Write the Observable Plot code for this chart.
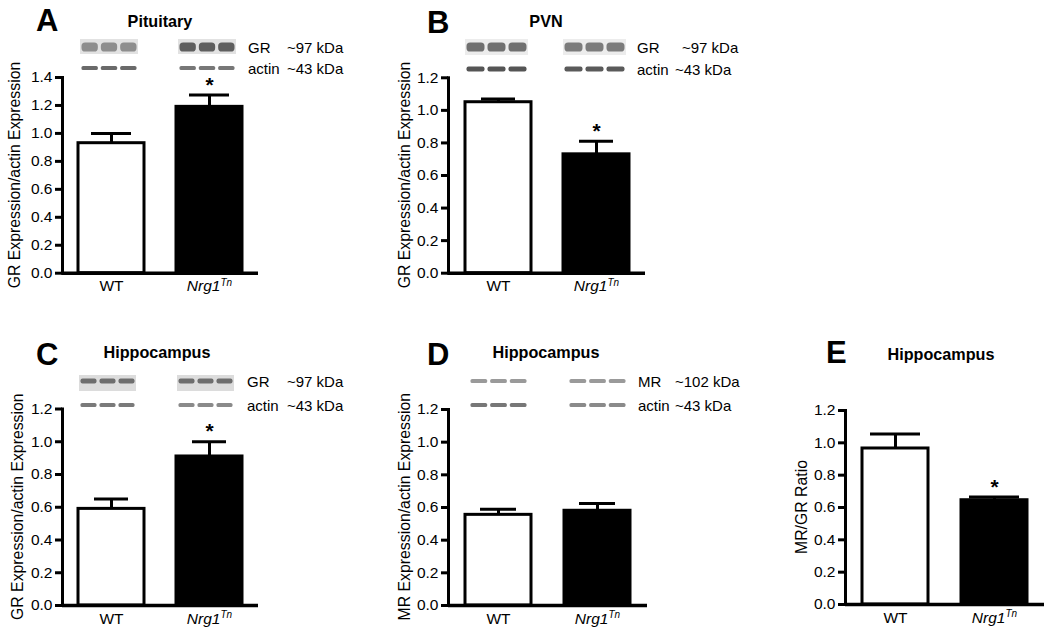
<!DOCTYPE html>
<html><head><meta charset="utf-8">
<script src="https://cdn.jsdelivr.net/npm/d3@7"></script>
<script src="https://cdn.jsdelivr.net/npm/@observablehq/plot@0.6"></script>
<style>
body{margin:0;background:#fff;}
#fig{position:relative;width:1050px;height:633px;font-family:"Liberation Sans",Arial,sans-serif;}
#fig svg{position:absolute;left:0;top:0;overflow:visible;}
</style></head><body><div id="fig"></div>
<script>
// ---- data ----
const groups = ["WT", "Nrg1"];
const meanA = [0.93, 1.19], semA = [0.07, 0.085];
const meanB = [1.05, 0.73], semB = [0.02, 0.08];
const meanC = [0.59, 0.91], semC = [0.06, 0.09];
const meanD = [0.555, 0.58], semD = [0.035, 0.045];
const meanE = [0.965, 0.645], semE = [0.09, 0.02];
const sigA = [false, true], sigB = [false, true], sigC = [false, true], sigD = [false, false], sigE = [false, true];
const ticks14 = [0, 0.2, 0.4, 0.6, 0.8, 1.0, 1.2, 1.4];
const ticks12 = [0, 0.2, 0.4, 0.6, 0.8, 1.0, 1.2];
const letters = ["A", "B", "C", "D", "E"];
const titles = ["Pituitary", "PVN", "Hippocampus", "Hippocampus", "Hippocampus"];
const yLabels = ["GR Expression/actin Expression", "GR Expression/actin Expression",
  "GR Expression/actin Expression", "MR Expression/actin Expression", "MR/GR Ratio"];
const blotNames = [["GR", "actin"], ["GR", "actin"], ["GR", "actin"], ["MR", "actin"], []];
const blotKda = [["~97 kDa", "~43 kDa"], ["~97 kDa", "~43 kDa"], ["~97 kDa", "~43 kDa"], ["~102 kDa", "~43 kDa"], []];

// ---- layout (page pixels) ----
const W = 1050, H = 633;
const FONT = "Liberation Sans, Arial, sans-serif";
const layout = [
  {left: 62, right: 258, top: 77, bottom: 272.7, max: 1.4, ticks: ticks14, cap: 13,
   letter: [36, 31], title: [160, 27], ylab: [20, 175],
   rows: [{y: 47, h: 9, bg: [39, 54, "#e2e2e2"], shade: ["#8e8e8e", "#5e5e5e"], nameX: 248, kdaX: 287},
          {y: 68, h: 4, bg: null, shade: ["#6a6a6a", "#777"], nameX: 248, kdaX: 287}],
   blot: [2, 6]},
  {left: 448, right: 645, top: 77.3, bottom: 272.7, max: 1.2, ticks: ticks12, cap: 16,
   letter: [427, 33], title: [546, 27], ylab: [410, 175],
   rows: [{y: 47, h: 9, bg: [39, 55, "#ececec"], shade: ["#707070", "#7c7c7c"], nameX: 637, kdaX: 682},
          {y: 69, h: 5, bg: null, shade: ["#555", "#5a5a5a"], nameX: 637, kdaX: 675}],
   blot: [0, 3]},
  {left: 62, right: 258, top: 408.5, bottom: 605, max: 1.2, ticks: ticks12, cap: 16,
   letter: [36, 365], title: [157, 358], ylab: [23, 506.7],
   rows: [{y: 381, h: 5, bg: [375, 391, "#dcdcdc"], shade: ["#6e6e6e", "#6e6e6e"], nameX: 247, kdaX: 287},
          {y: 405, h: 4, bg: null, shade: ["#7a7a7a", "#8a8a8a"], nameX: 247, kdaX: 287}],
   blot: [1, 8]},
  {left: 448, right: 647, top: 409, bottom: 605, max: 1.2, ticks: ticks12, cap: 15,
   letter: [427, 365], title: [546, 358], ylab: [410, 506.7],
   rows: [{y: 381, h: 4, bg: null, shade: ["#9a9a9a", "#9a9a9a"], nameX: 638, kdaX: 675},
          {y: 405, h: 4, bg: null, shade: ["#777", "#8a8a8a"], nameX: 638, kdaX: 675}],
   blot: [4, 3]},
  {left: 845, right: 1044, top: 410, bottom: 604, max: 1.2, ticks: ticks12, cap: 8,
   letter: [826, 363], title: [941, 360], ylab: [807, 507],
   rows: [], blot: [0, 0]}
];

const fig = document.getElementById("fig");
const panelsData = [[meanA, semA, sigA], [meanB, semB, sigB], [meanC, semC, sigC], [meanD, semD, sigD], [meanE, semE, sigE]];

panelsData.forEach(([means, sems, sig], p) => {
  const L = layout[p];
  const data = groups.map((g, i) => ({group: g, mean: means[i], top: means[i] + sems[i], sig: sig[i]}));
  const plot = Plot.plot({
    width: W, height: H,
    marginLeft: L.left, marginRight: W - L.right, marginTop: L.top, marginBottom: H - L.bottom,
    style: {fontFamily: FONT, fontSize: "15px", background: "transparent", color: "black", overflow: "visible"},
    x: {domain: groups, paddingInner: 0.33, paddingOuter: 0.165, label: null},
    y: {domain: [0, L.max], label: null},
    marks: [
      Plot.ruleX(data, {x: "group", y1: "mean", y2: "top", stroke: "black", strokeWidth: 3}),
      Plot.tickY(data, {x: "group", y: "top", stroke: "black", strokeWidth: 3, insetLeft: L.cap, insetRight: L.cap}),
      Plot.barY(data.filter(d => d.group === "WT"), {x: "group", y: "mean", fill: "white", stroke: "black", strokeWidth: 3}),
      Plot.barY(data.filter(d => d.group !== "WT"), {x: "group", y: "mean", fill: "black", stroke: "black", strokeWidth: 3}),
      Plot.text(data.filter(d => d.sig), {x: "group", y: "top", text: () => "*", dy: -10, fontSize: 21, fontWeight: "bold", fill: "black"}),
      Plot.frame({anchor: "left", stroke: "black", strokeWidth: 3}),
      Plot.ruleY([0], {stroke: "black", strokeWidth: 3.5}),
      Plot.axisY({ticks: L.ticks, tickSize: 7, tickPadding: 3, strokeWidth: 3, tickFormat: d3.format(".1f"), fontSize: 15.5, label: null}),
      Plot.axisX({tickSize: 0, tickPadding: 7, fontSize: 15.5, label: null})
    ]
  });
  const svg = d3.select(plot);
  // italic Nrg1 with superscript Tn
  svg.selectAll("text").filter(function () { return this.textContent === "Nrg1"; }).each(function () {
    const t = d3.select(this);
    t.text(null).attr("font-style", "italic");
    t.append("tspan").text("Nrg1");
    t.append("tspan").text("Tn").attr("font-size", "10px").attr("dy", "-0.55em");
  });
  const addText = (x, y, s, size, extra = {}) => {
    const t = svg.append("text").attr("x", x).attr("y", y).text(s)
      .attr("font-size", size).attr("font-family", FONT).attr("text-anchor", "start").attr("fill", "black");
    Object.entries(extra).forEach(([k, v]) => t.attr(k, v));
    return t;
  };
  // panel letter and title
  addText(L.letter[0], L.letter[1], letters[p], 31, {"font-weight": "bold"});
  addText(L.title[0], L.title[1], titles[p], 16.2, {"font-weight": "bold", "text-anchor": "middle"});
  // y label
  addText(0, 0, yLabels[p], 15.8, {"text-anchor": "middle", transform: `translate(${L.ylab[0]},${L.ylab[1]}) rotate(-90)`});
  // western blot strips
  const xs = plot.scale("x");
  const bw = xs.bandwidth;
  const defs = svg.append("defs");
  const fid = "blur" + p;
  defs.append("filter").attr("id", fid).append("feGaussianBlur").attr("stdDeviation", 0.7);
  L.rows.forEach((r, ri) => {
    groups.forEach((g, gi) => {
      const x0 = xs.apply(g) + L.blot[0], x1 = xs.apply(g) + bw - L.blot[1];
      if (r.bg) svg.append("rect").attr("x", x0).attr("y", r.bg[0]).attr("width", x1 - x0)
        .attr("height", r.bg[1] - r.bg[0]).attr("fill", r.bg[2]);
      const lw = (x1 - x0) / 3;
      for (let k = 0; k < 3; k++) {
        svg.append("rect").attr("x", x0 + k * lw + 1.5).attr("y", r.y - r.h / 2)
          .attr("width", lw - 3).attr("height", r.h).attr("rx", r.h / 2.5)
          .attr("fill", r.shade[gi]).attr("filter", `url(#${fid})`);
      }
    });
    addText(r.nameX, r.y + 5.5, blotNames[p][ri], 15);
    addText(r.kdaX, r.y + 5.5, blotKda[p][ri], 15);
  });
  fig.appendChild(plot);
});
</script></body></html>
